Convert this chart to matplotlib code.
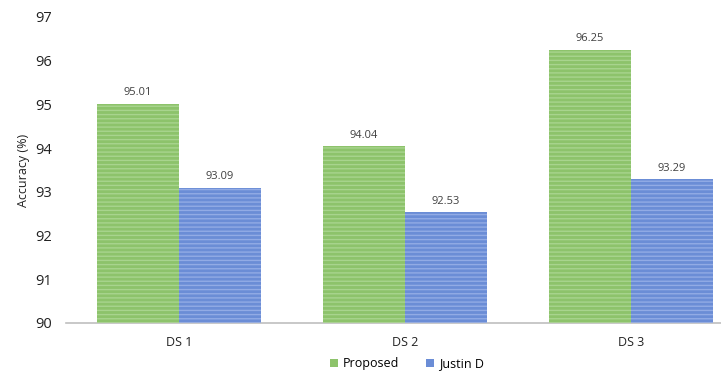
import numpy as np
import matplotlib.pyplot as plt
from matplotlib.patches import Patch

plt.rcParams['font.family'] = ['Open Sans', 'DejaVu Sans']
plt.rcParams['hatch.linewidth'] = 1.0

datasets = ['DS 1', 'DS 2', 'DS 3']
proposed = [95.01, 94.04, 96.25]
justin_d = [93.09, 92.53, 93.29]
series_names = ['Proposed', 'Justin D']

green, green_stripe = '#8dc36b', '#a8d48e'
blue, blue_stripe = '#6b8dd6', '#92abe5'

fig = plt.figure(figsize=(7.21, 3.72), dpi=100)
ax = fig.add_axes([66 / 721, 49 / 372, 678 / 721, 306 / 372])

x = np.arange(len(datasets))
w = 0.363

def striped_bars(xpos, vals, face, stripe):
    # solid fill first, then light horizontal stripes on top
    ax.bar(xpos, np.array(vals) - 90, w, bottom=90, color=face, linewidth=0, zorder=2)
    ax.bar(xpos, np.array(vals) - 90, w, bottom=90, facecolor='none',
           edgecolor=stripe, hatch='----', linewidth=0, zorder=3)

striped_bars(x - w / 2, proposed, green, green_stripe)
striped_bars(x + w / 2, justin_d, blue, blue_stripe)

for xs, vals in ((x - w / 2, proposed), (x + w / 2, justin_d)):
    for xi, v in zip(xs, vals):
        ax.annotate(f'{v:.2f}', (xi, v), xytext=(0, 4), textcoords='offset points',
                    ha='center', va='bottom', fontsize=8, color='#404040')

ax.set_xlim(-0.5, 2.5)
ax.set_ylim(90, 97)
ax.set_yticks(range(90, 98))
ax.set_xticks(x)
ax.set_xticklabels(datasets)
ax.tick_params(axis='both', length=0, colors='#222222')
ax.tick_params(axis='x', pad=9, labelsize=9)
ax.tick_params(axis='y', pad=10, labelsize=10.5)
for s in ('top', 'right', 'left'):
    ax.spines[s].set_visible(False)
ax.spines['bottom'].set_color('#bfbfbf')
ax.spines['bottom'].set_linewidth(1.2)
ax.set_ylabel('Accuracy (%)', fontsize=9, color='#222222', labelpad=4)

handles = [Patch(facecolor=green, edgecolor='none'), Patch(facecolor=blue, edgecolor='none')]
fig.legend(handles, series_names, loc='center', bbox_to_anchor=(407 / 721, 8 / 372),
           ncol=2, frameon=False, fontsize=9, handlelength=0.6, handleheight=0.6,
           handletextpad=0.4, columnspacing=2.2)

fig.savefig('out.png', dpi=100)
